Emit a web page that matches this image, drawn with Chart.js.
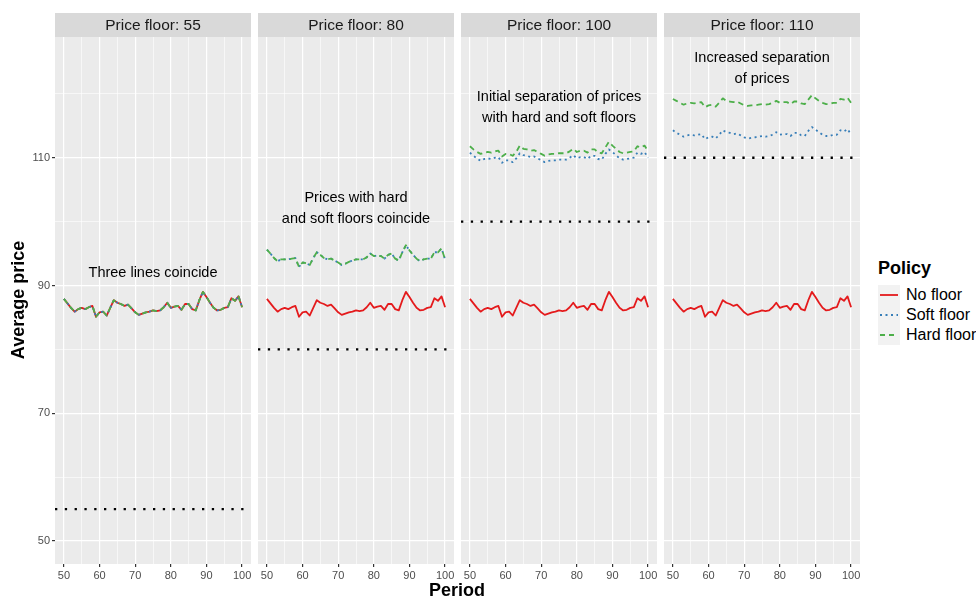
<!DOCTYPE html>
<html>
<head>
<meta charset="utf-8">
<script src="https://cdn.jsdelivr.net/npm/chart.js@4.4.1/dist/chart.umd.min.js"></script>
<style>
  body { margin: 0; background: #fff; width: 976px; height: 597px; overflow: hidden; position: relative;
         font-family: "Liberation Sans", Arial, sans-serif; }
  canvas { position: absolute; top: 0; }
  .axis-title { position: absolute; font-weight: bold; font-size: 18px; line-height: 20px; color: #000; text-align: center; white-space: nowrap; }
  .leg-title { position: absolute; left: 878px; top: 258px; font-weight: bold; font-size: 18px; line-height: 20px; }
  .leg-item { position: absolute; left: 906px; font-size: 16px; line-height: 20px; white-space: nowrap; }
</style>
</head>
<body>
<canvas id="p0" width="261" height="590" style="left:0px"></canvas>
<canvas id="p1" width="216" height="590" style="left:248px"></canvas>
<canvas id="p2" width="216" height="590" style="left:451px"></canvas>
<canvas id="p3" width="216" height="590" style="left:654px"></canvas>

<div class="axis-title" style="left:-82px; top:290px; width:200px; transform:rotate(-90deg);">Average price</div>
<div class="axis-title" style="left:357px; top:580px; width:200px;">Period</div>

<div class="leg-title">Policy</div>
<svg style="position:absolute; left:878px; top:285px;" width="22" height="60">
  <rect x="0" y="0" width="22" height="60" fill="#F2F2F2"></rect>
  <line x1="2" y1="10" x2="20" y2="10" stroke="#E41A1C" stroke-width="1.8"></line>
  <line x1="2" y1="30" x2="20" y2="30" stroke="#377EB8" stroke-width="1.8" stroke-dasharray="2 3.5"></line>
  <line x1="2" y1="50" x2="20" y2="50" stroke="#4DAF4A" stroke-width="1.8" stroke-dasharray="5 4"></line>
</svg>
<div class="leg-item" style="top:285px">No floor</div>
<div class="leg-item" style="top:305px">Soft floor</div>
<div class="leg-item" style="top:325px">Hard floor</div>

<script>
// periods on the x axis
const periods = [50, 51, 52, 53, 54, 55, 56, 57, 58, 59, 60, 61, 62, 63, 64, 65, 66, 67, 68, 69, 70,
  71, 72, 73, 74, 75, 76, 77, 78, 79, 80, 81, 82, 83, 84, 85, 86, 87, 88, 89, 90,
  91, 92, 93, 94, 95, 96, 97, 98, 99, 100];

const floors = [55, 80, 100, 110];
const panelTitles = ["Price floor: 55", "Price floor: 80", "Price floor: 100", "Price floor: 110"];

const xTicks = [50, 60, 70, 80, 90, 100];
const yTicks = [50, 70, 90, 110];

// annotations (text lines, y value; x at period 75)
const notes = [
  ["Three lines coincide"],
  ["Prices with hard", "and soft floors coincide"],
  ["Initial separation of prices", "with hard and soft floors"],
  ["Increased separation", "of prices"]
];
const noteY = [92, 102.1, 117.9, 124];

// no floor - same in every panel
const noFloor = [87.9, 87.2, 86.5, 85.9, 86.3, 86.5, 86.3, 86.6, 86.8, 85.1, 85.8, 85.9, 85.3, 86.5, 87.7, 87.3, 87.1,
  86.8, 87.0, 86.4, 85.8, 85.4, 85.6, 85.8, 85.9, 86.1, 86.0, 86.1, 86.6, 87.3, 86.5, 86.7, 86.8, 86.2,
  87.1, 87.1, 86.3, 86.1, 87.7, 89.0, 88.2, 87.3, 86.5, 86.1, 86.2, 86.5, 86.6, 88.0, 87.6, 88.3, 86.6];

// floor 55: all three coincide
const soft55 = [87.9, 87.2, 86.5, 85.9, 86.3, 86.5, 86.3, 86.6, 86.8, 85.1, 85.8, 85.9, 85.3, 86.5, 87.7, 87.3, 87.1,
  86.8, 87.0, 86.4, 85.8, 85.4, 85.6, 85.8, 85.9, 86.1, 86.0, 86.1, 86.6, 87.3, 86.5, 86.7, 86.8, 86.2,
  87.1, 87.1, 86.3, 86.1, 87.7, 89.0, 88.2, 87.3, 86.5, 86.1, 86.2, 86.5, 86.6, 88.0, 87.6, 88.3, 86.6];
const hard55 = [87.9, 87.2, 86.5, 85.9, 86.3, 86.5, 86.3, 86.6, 86.8, 85.1, 85.8, 85.9, 85.3, 86.5, 87.7, 87.3, 87.1,
  86.8, 87.0, 86.4, 85.8, 85.4, 85.6, 85.8, 85.9, 86.1, 86.0, 86.1, 86.6, 87.3, 86.5, 86.7, 86.8, 86.2,
  87.1, 87.1, 86.3, 86.1, 87.7, 89.0, 88.2, 87.3, 86.5, 86.1, 86.2, 86.5, 86.6, 88.0, 87.6, 88.3, 86.6];

// floor 80: soft and hard coincide
const soft80 = [95.6, 95.0, 94.3, 93.8, 94.1, 94.1, 94.1, 94.2, 94.3, 92.9, 93.6, 93.5, 93.2, 94.3, 95.2, 94.8, 94.3,
  94.1, 94.2, 93.9, 93.6, 93.2, 93.4, 93.7, 93.9, 94.1, 94.1, 94.1, 94.4, 95.0, 94.6, 94.7, 94.6, 94.2,
  94.8, 95.0, 94.2, 93.9, 95.2, 96.3, 95.5, 94.8, 94.2, 93.8, 94.1, 94.2, 94.2, 95.2, 95.2, 95.8, 94.1];
const hard80 = [95.6, 95.0, 94.3, 93.8, 94.1, 94.1, 94.1, 94.2, 94.3, 92.9, 93.6, 93.5, 93.2, 94.3, 95.2, 94.8, 94.3,
  94.1, 94.2, 93.9, 93.6, 93.2, 93.4, 93.7, 93.9, 94.1, 94.1, 94.1, 94.4, 95.0, 94.6, 94.7, 94.6, 94.2,
  94.8, 95.0, 94.2, 93.9, 95.2, 96.3, 95.5, 94.8, 94.2, 93.8, 94.1, 94.2, 94.2, 95.2, 95.2, 95.8, 94.1];

// floor 100
const soft100 = [110.8, 110.3, 109.9, 109.5, 109.8, 109.9, 109.8, 110.0, 110.1, 109.2, 109.6, 109.6, 109.3, 109.9,
  110.7, 110.4, 110.3, 110.1, 110.2, 109.9, 109.6, 109.3, 109.5, 109.6, 109.6, 109.7, 109.7, 109.7, 110.0,
  110.4, 109.9, 110.1, 110.1, 109.8, 110.3, 110.3, 109.8, 109.7, 110.6, 111.3, 110.9, 110.4, 109.9, 109.7,
  109.8, 109.9, 110.0, 110.8, 110.6, 110.9, 110.0];
const hard100 = [111.8, 111.3, 110.9, 110.6, 110.8, 110.9, 110.8, 111.0, 111.1, 110.2, 110.6, 110.6, 110.3, 110.9,
  111.9, 111.4, 111.3, 111.1, 111.2, 110.9, 110.6, 110.3, 110.5, 110.6, 110.6, 110.7, 110.7, 110.7, 111.0,
  111.4, 110.9, 111.1, 111.1, 110.8, 111.3, 111.3, 110.8, 110.7, 111.6, 112.5, 111.9, 111.4, 110.9, 110.7,
  110.8, 110.9, 111.0, 111.8, 111.6, 111.9, 111.0];

// floor 110
const soft110 = [114.3, 113.9, 113.6, 113.3, 113.5, 113.6, 113.5, 113.6, 113.7, 112.9, 113.2, 113.3, 113.0, 113.6,
  114.3, 114.0, 113.9, 113.7, 113.8, 113.5, 113.2, 113.0, 113.1, 113.2, 113.3, 113.4, 113.3, 113.4, 113.6,
  114.0, 113.6, 113.7, 113.7, 113.4, 113.9, 113.9, 113.5, 113.4, 114.2, 114.8, 114.4, 114.0, 113.6, 113.4,
  113.4, 113.6, 113.6, 114.3, 114.1, 114.5, 113.6];
const hard110 = [119.2, 118.9, 118.6, 118.3, 118.5, 118.6, 118.5, 118.6, 118.7, 117.9, 118.2, 118.3, 118.0, 118.6,
  119.3, 118.9, 118.8, 118.7, 118.8, 118.5, 118.2, 118.1, 118.2, 118.2, 118.3, 118.4, 118.3, 118.4, 118.6,
  118.9, 118.6, 118.7, 118.7, 118.4, 118.8, 118.8, 118.5, 118.4, 119.1, 119.8, 119.3, 118.9, 118.6, 118.4,
  118.4, 118.6, 118.6, 119.2, 119.1, 119.4, 118.6];

const softSeries = [soft55, soft80, soft100, soft110];
const hardSeries = [hard55, hard80, hard100, hard110];

const X_MIN = 47.5, X_MAX = 102.5;
const Y_MIN = 46.4, Y_MAX = 128.9;
const FONT = '"Liberation Sans", Arial, sans-serif';

function pts(arr) {
    return periods.map((p, i) => ({ x: p, y: arr[i] }));
}

// grey panel, strip on top and the text note
const panelPlugin = {
    id: "panel",
    beforeDraw(chart, args, opts) {
        const ctx = chart.ctx;
        const a = chart.chartArea;
        ctx.save();
        ctx.fillStyle = "#EBEBEB";
        ctx.fillRect(a.left, a.top, a.right - a.left, a.bottom - a.top);
        ctx.fillStyle = "#D9D9D9";
        ctx.fillRect(a.left, 13, a.right - a.left, 24);
        ctx.fillStyle = "#1A1A1A";
        ctx.font = "15.5px " + FONT;
        ctx.textAlign = "center";
        ctx.textBaseline = "middle";
        ctx.fillText(panelTitles[opts.idx], (a.left + a.right) / 2, 26);
        ctx.restore();
    },
    afterDatasetsDraw(chart, args, opts) {
        const ctx = chart.ctx;
        const lines = notes[opts.idx];
        const x = chart.scales.x.getPixelForValue(75);
        const y = chart.scales.y.getPixelForValue(noteY[opts.idx]);
        ctx.save();
        ctx.fillStyle = "#000";
        ctx.font = "14.5px " + FONT;
        ctx.textAlign = "center";
        ctx.textBaseline = "middle";
        const lh = 21;
        const y0 = y - (lines.length - 1) * lh / 2;
        lines.forEach((t, k) => ctx.fillText(t, x, y0 + k * lh));
        ctx.restore();
    }
};

function makePanel(i) {
    const first = i === 0;
    const ctx = document.getElementById("p" + i).getContext("2d");
    new Chart(ctx, {
        type: "line",
        data: {
            datasets: [
                {
                    label: "Hard floor",
                    data: pts(hardSeries[i]),
                    borderColor: "#4DAF4A",
                    borderWidth: 1.8,
                    borderDash: [5.5, 4],
                },
                {
                    label: "Soft floor",
                    data: pts(softSeries[i]),
                    borderColor: "#377EB8",
                    borderWidth: 1.8,
                    borderDash: [2, 3.5],
                },
                {
                    label: "No floor",
                    data: pts(noFloor),
                    borderColor: "#E41A1C",
                    borderWidth: 1.8,
                },
                {
                    label: "Floor",
                    data: [{ x: X_MIN, y: floors[i] }, { x: X_MAX, y: floors[i] }],
                    borderColor: "#000",
                    borderWidth: 2.3,
                    borderDash: [2.3, 7.5],
                },
            ],
        },
        options: {
            responsive: false,
            animation: false,
            devicePixelRatio: 1,
            layout: { padding: { left: first ? 0 : 10, right: 10, top: 37, bottom: 0 } },
            elements: {
                point: { radius: 0 },
                line: { tension: 0, fill: false, borderJoinStyle: "round" },
            },
            scales: {
                x: {
                    type: "linear",
                    min: X_MIN,
                    max: X_MAX,
                    afterBuildTicks: (s) => {
                        s.ticks = [50, 55, 60, 65, 70, 75, 80, 85, 90, 95, 100].map((v) => ({ value: v }));
                    },
                    afterFit: (s) => { s.height = 26; },
                    border: { display: false },
                    grid: {
                        color: "#FFFFFF",
                        lineWidth: (c) => (xTicks.includes(c.tick.value) ? 1.2 : 0.6),
                        tickColor: (c) => (xTicks.includes(c.tick.value) ? "#333333" : "rgba(0,0,0,0)"),
                        tickLength: 3,
                    },
                    ticks: {
                        autoSkip: false,
                        maxRotation: 0,
                        padding: 2,
                        color: "#4D4D4D",
                        font: { family: FONT, size: 11 },
                        callback: (v) => (xTicks.includes(v) ? String(v) : ""),
                    },
                },
                y: {
                    type: "linear",
                    min: Y_MIN,
                    max: Y_MAX,
                    afterBuildTicks: (s) => {
                        s.ticks = [50, 60, 70, 80, 90, 100, 110, 120].map((v) => ({ value: v }));
                    },
                    afterFit: (s) => { s.width = first ? 55 : 0; },
                    border: { display: false },
                    grid: {
                        color: "#FFFFFF",
                        lineWidth: (c) => (yTicks.includes(c.tick.value) ? 1.2 : 0.6),
                        tickColor: (c) => (yTicks.includes(c.tick.value) ? "#333333" : "rgba(0,0,0,0)"),
                        drawTicks: first,
                        tickLength: 3,
                    },
                    ticks: {
                        display: first,
                        autoSkip: false,
                        padding: 2,
                        color: "#4D4D4D",
                        font: { family: FONT, size: 11 },
                        callback: (v) => (yTicks.includes(v) ? String(v) : ""),
                    },
                },
            },
            plugins: {
                legend: { display: false },
                tooltip: { enabled: false },
                panel: { idx: i },
            },
        },
        plugins: [panelPlugin],
    });
}

for (let i = 0; i < 4; i++) makePanel(i);
</script>
</body>
</html>
